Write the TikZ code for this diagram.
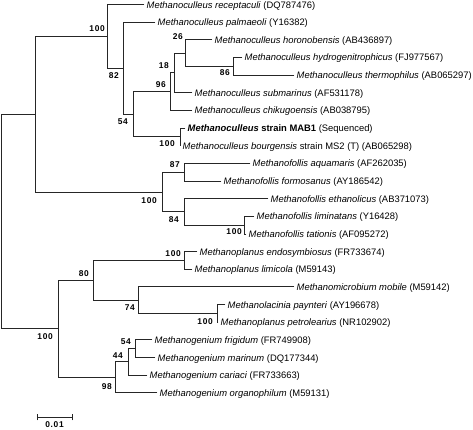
\documentclass[tikz,border=0pt]{standalone}
\usepackage{fontspec}
\setmainfont{Liberation Sans}
\newfontfamily\bsfont[LetterSpace=8]{Liberation Sans}
\newcommand\ry[1]{4.5+17.65*#1}
\tikzset{
  br/.style={draw=black!85, line width=0.9pt, line cap=rect},
  leaf/.style={anchor=west, inner xsep=2.5pt, inner ysep=0pt, text height=7pt, text depth=0pt, font=\fontsize{9.4}{10}\selectfont},
  bs/.style={anchor=east, inner sep=0pt, font=\bsfont\bfseries\fontsize{8.4}{10}\selectfont}
}
\begin{document}
\begin{tikzpicture}[x=1pt,y=-1pt]
\useasboundingbox (0,0) rectangle (473,429);
% internal nodes
\coordinate (R) at (1,{\ry{12.2949}});
\coordinate (A) at (35,{\ry{6.21484}});
\coordinate (C) at (107,{\ry{1.8046875}});
\coordinate (D) at (123,{\ry{3.609375}});
\coordinate (E) at (133,{\ry{6.21875}});
\coordinate (G) at (170,{\ry{4.9375}});
\coordinate (I) at (174,{\ry{3.875}});
\coordinate (J) at (185,{\ry{2.75}});
\coordinate (K) at (233,{\ry{3.5}});
\coordinate (H) at (180,{\ry{7.5}});
\coordinate (F) at (162,{\ry{10.625}});
\coordinate (Fa) at (184,{\ry{9.5}});
\coordinate (Fb) at (184,{\ry{11.75}});
\coordinate (Fc) at (244,{\ry{12.5}});
\coordinate (B) at (58,{\ry{18.375}});
\coordinate (P) at (93,{\ry{15.625}});
\coordinate (Pa) at (184,{\ry{14.5}});
\coordinate (Pb) at (138,{\ry{16.75}});
\coordinate (Pc) at (217,{\ry{17.5}});
\coordinate (M) at (115,{\ry{21.125}});
\coordinate (Ma) at (128,{\ry{20.25}});
\coordinate (Mb) at (135,{\ry{19.5}});
% leaves
\node[leaf] (l1) at (144,{\ry{0}}) {\textit{Methanoculleus receptaculi} (DQ787476)};
\node[leaf] (l2) at (155,{\ry{1}}) {\textit{Methanoculleus palmaeoli} (Y16382)};
\node[leaf] (l3) at (212,{\ry{2}}) {\textit{Methanoculleus horonobensis} (AB436897)};
\node[leaf] (l4) at (242,{\ry{3}}) {\textit{Methanoculleus hydrogenitrophicus} (FJ977567)};
\node[leaf] (l5) at (294,{\ry{4}}) {\textit{Methanoculleus thermophilus} (AB065297)};
\node[leaf] (l6) at (192,{\ry{5}}) {\textit{Methanoculleus submarinus} (AF531178)};
\node[leaf] (l7) at (192,{\ry{6}}) {\textit{Methanoculleus chikugoensis} (AB038795)};
\node[leaf] (l8) at (185,{\ry{7}}) {\textbf{\textit{Methanoculleus} strain MAB1} (Sequenced)};
\node[leaf] (l9) at (180,{\ry{8}}) {\textit{Methanoculleus bourgensis} strain MS2 (T) (AB065298)};
\node[leaf] (l10) at (250,{\ry{9}}) {\textit{Methanofollis aquamaris} (AF262035)};
\node[leaf] (l11) at (221,{\ry{10}}) {\textit{Methanofollis formosanus} (AY186542)};
\node[leaf] (l12) at (268,{\ry{11}}) {\textit{Methanofollis ethanolicus} (AB371073)};
\node[leaf] (l13) at (254,{\ry{12}}) {\textit{Methanofollis liminatans} (Y16428)};
\node[leaf] (l14) at (246,{\ry{13}}) {\textit{Methanofollis tationis} (AF095272)};
\node[leaf] (l15) at (197,{\ry{14}}) {\textit{Methanoplanus endosymbiosus} (FR733674)};
\node[leaf] (l16) at (192,{\ry{15}}) {\textit{Methanoplanus limicola} (M59143)};
\node[leaf] (l17) at (294,{\ry{16}}) {\textit{Methanomicrobium mobile} (M59142)};
\node[leaf] (l18) at (225,{\ry{17}}) {\textit{Methanolacinia paynteri} (AY196678)};
\node[leaf] (l19) at (218,{\ry{18}}) {\textit{Methanoplanus petrolearius} (NR102902)};
\node[leaf] (l20) at (152,{\ry{19}}) {\textit{Methanogenium frigidum} (FR749908)};
\node[leaf] (l21) at (155,{\ry{20}}) {\textit{Methanogenium marinum} (DQ177344)};
\node[leaf] (l22) at (147,{\ry{21}}) {\textit{Methanogenium cariaci} (FR733663)};
\node[leaf] (l23) at (157,{\ry{22}}) {\textit{Methanogenium organophilum} (M59131)};
% branches
\draw[br] (R) |- (A); \draw[br] (R) |- (B);
\draw[br] (A) |- (C); \draw[br] (A) |- (F);
\draw[br] (C) |- (l1.west); \draw[br] (C) |- (D);
\draw[br] (D) |- (l2.west); \draw[br] (D) |- (E);
\draw[br] (E) |- (G); \draw[br] (E) |- (H);
\draw[br] (G) |- (I); \draw[br] (G) |- (l7.west);
\draw[br] (I) |- (J); \draw[br] (I) |- (l6.west);
\draw[br] (J) |- (l3.west); \draw[br] (J) |- (K);
\draw[br] (K) |- (l4.west); \draw[br] (K) |- (l5.west);
\draw[br] (H) |- (l8.west); \draw[br] (H) |- (l9.west);
\draw[br] (F) |- (Fa); \draw[br] (F) |- (Fb);
\draw[br] (Fa) |- (l10.west); \draw[br] (Fa) |- (l11.west);
\draw[br] (Fb) |- (l12.west); \draw[br] (Fb) |- (Fc);
\draw[br] (Fc) |- (l13.west); \draw[br] (Fc) |- (l14.west);
\draw[br] (B) |- (P); \draw[br] (B) |- (M);
\draw[br] (P) |- (Pa); \draw[br] (P) |- (Pb);
\draw[br] (Pa) |- (l15.west); \draw[br] (Pa) |- (l16.west);
\draw[br] (Pb) |- (l17.west); \draw[br] (Pb) |- (Pc);
\draw[br] (Pc) |- (l18.west); \draw[br] (Pc) |- (l19.west);
\draw[br] (M) |- (Ma); \draw[br] (M) |- (l23.west);
\draw[br] (Ma) |- (Mb); \draw[br] (Ma) |- (l22.west);
\draw[br] (Mb) |- (l20.west); \draw[br] (Mb) |- (l21.west);
% bootstrap values
\node[bs] (bC) at (105,29) {100};
\node[bs] (bD) at (119,76) {82};
\node[bs] (bE) at (128,122) {54};
\node[bs] (bG) at (166,85) {96};
\node[bs] (bI) at (169,66) {18};
\node[bs] (bJ) at (183,37) {26};
\node[bs] (bK) at (230,73) {86};
\node[bs] (bH) at (175,144) {100};
\node[bs] (bF) at (157,201) {100};
\node[bs] (bFa) at (180,165) {87};
\node[bs] (bFb) at (179,220) {84};
\node[bs] (bFc) at (242,232) {100};
\node[bs] (bP) at (89,274) {80};
\node[bs] (bPa) at (181,254) {100};
\node[bs] (bPb) at (135,308) {74};
\node[bs] (bPc) at (213,322) {100};
\node[bs] (bB) at (53,337) {100};
\node[bs] (bM) at (112,387) {98};
\node[bs] (bMa) at (123,356) {44};
\node[bs] (bMb) at (131,342) {54};
% scale bar
\coordinate (s1) at (37,417); \coordinate (s2) at (72,417);
\coordinate (s1t) at (37,414); \coordinate (s1b) at (37,420);
\coordinate (s2t) at (72,414); \coordinate (s2b) at (72,420);
\draw[br] (s1) -- (s2);
\draw[br] (s1t) -- (s1b);
\draw[br] (s2t) -- (s2b);
\node[inner sep=0pt, font=\bsfont\bfseries\fontsize{8.4}{10}\selectfont] (sl) at (54.5,425) {0.01};
\end{tikzpicture}
\end{document}
